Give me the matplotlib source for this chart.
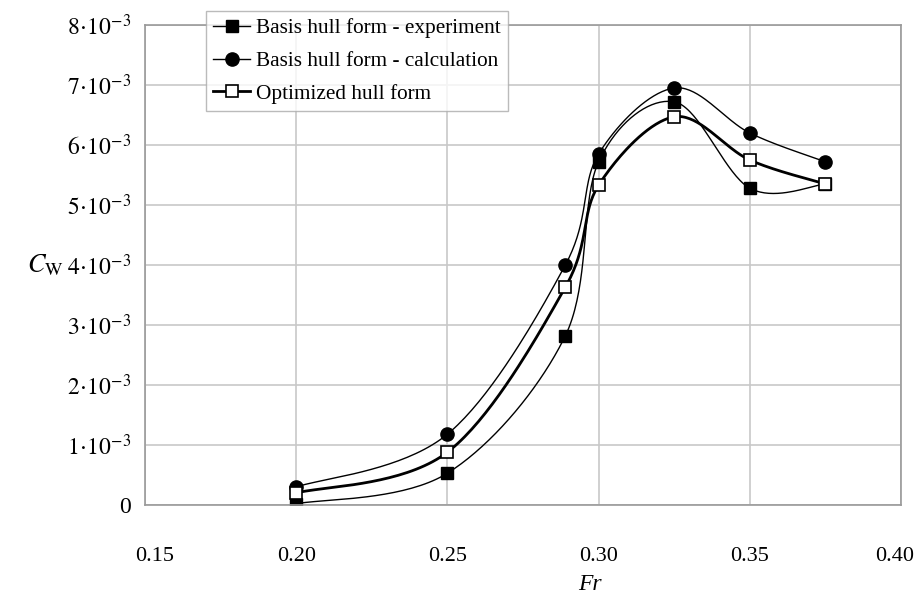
import numpy as np
import matplotlib.pyplot as plt
import matplotlib.transforms as mtransforms

plt.rcParams['font.family'] = ['Liberation Serif', 'DejaVu Serif']
plt.rcParams['mathtext.fontset'] = 'stix'

# donnees
fr = [0.20, 0.25, 0.289, 0.30, 0.325, 0.35, 0.375]
cw_exp = [0.02e-3, 0.53e-3, 2.82e-3, 5.72e-3, 6.72e-3, 5.28e-3, 5.35e-3]
cw_calc = [0.30e-3, 1.18e-3, 4.00e-3, 5.85e-3, 6.95e-3, 6.20e-3, 5.72e-3]
cw_opt = [0.20e-3, 0.88e-3, 3.63e-3, 5.33e-3, 6.47e-3, 5.75e-3, 5.35e-3]

labels = ["Basis hull form - experiment", "Basis hull form - calculation",
          "Optimized hull form"]
xticks = [0.15, 0.20, 0.25, 0.30, 0.35, 0.40]
yticks = [0, 1e-3, 2e-3, 3e-3, 4e-3, 5e-3, 6e-3, 7e-3, 8e-3]
ytick_labels = ["0"] + [r"$%d\!\cdot\!10^{-3}$" % i for i in range(1, 9)]


# courbe lissee facon tableur (bezier, tension 1/6)
def lisse(x, y, n=40):
    p = np.column_stack([x, y])
    p = np.vstack([p[0], p, p[-1]])
    out = []
    for i in range(1, len(p) - 2):
        p0, p1, p2, p3 = p[i - 1], p[i], p[i + 1], p[i + 2]
        c1 = p1 + (p2 - p0) / 6
        c2 = p2 - (p3 - p1) / 6
        t = np.linspace(0, 1, n)[:, None]
        seg = (1 - t)**3 * p1 + 3 * (1 - t)**2 * t * c1 + 3 * (1 - t) * t**2 * c2 + t**3 * p2
        out.append(seg)
    out = np.vstack(out)
    return out[:, 0], out[:, 1]


fig = plt.figure(figsize=(9.18, 6.01), dpi=100)
ax = fig.add_axes([145 / 918, 1 - 505 / 601, 756 / 918, 480 / 601])

series = [
    (cw_exp, dict(marker='s', ms=8, mfc='black', mec='black'), 1.0),
    (cw_calc, dict(marker='o', ms=9.5, mfc='black', mec='black'), 1.0),
    (cw_opt, dict(marker='s', ms=9, mfc='white', mec='black', mew=1.2), 2.0),
]
handles = []
for (cw, mk, lw), lab in zip(series, labels):
    xs, ys = lisse(fr, cw)
    ax.plot(xs, ys, color='black', lw=lw)
    ax.plot(fr, cw, ls='none', **mk)
    h, = ax.plot([], [], color='black', lw=lw, label=lab, **mk)
    handles.append(h)

ax.set_xlim(0.15, 0.40)
ax.set_ylim(0, 8e-3)
ax.set_xticks(xticks)
ax.set_xticklabels(["%.2f" % v for v in xticks])
ax.set_yticks(yticks)
ax.set_yticklabels(ytick_labels)
ax.tick_params(length=0)
ax.tick_params(axis='y', labelsize=17, pad=10)
ax.tick_params(axis='x', labelsize=16, pad=30)
ax.grid(True, color='#c8c8c8', lw=1.2)
ax.set_axisbelow(True)
for s in ax.spines.values():
    s.set_color('#999999')
    s.set_linewidth(1.2)

# decalage des etiquettes aux bords
xl = ax.get_xticklabels()
xl[0].set_transform(xl[0].get_transform() + mtransforms.ScaledTranslation(10 / 100, 0, fig.dpi_scale_trans))
xl[-1].set_transform(xl[-1].get_transform() + mtransforms.ScaledTranslation(-6 / 100, 0, fig.dpi_scale_trans))

fig.text(590 / 918, 1 - 585 / 601, "Fr", fontsize=17, style='italic', ha='center', va='center')
fig.text(45 / 918, 1 - 265 / 601, r"$C_{\mathrm{W}}$", fontsize=19, ha='center', va='center')

leg = fig.legend(handles=handles, loc='upper left', bbox_to_anchor=(206 / 918, 1 - 11 / 601),
                 fontsize=15.3, frameon=True, fancybox=False, handlelength=1.7,
                 handletextpad=0.3, borderpad=0.35, labelspacing=0.6, borderaxespad=0)
leg.get_frame().set_edgecolor('#aaaaaa')
leg.get_frame().set_linewidth(1.0)

fig.savefig("out.png", dpi=100)
